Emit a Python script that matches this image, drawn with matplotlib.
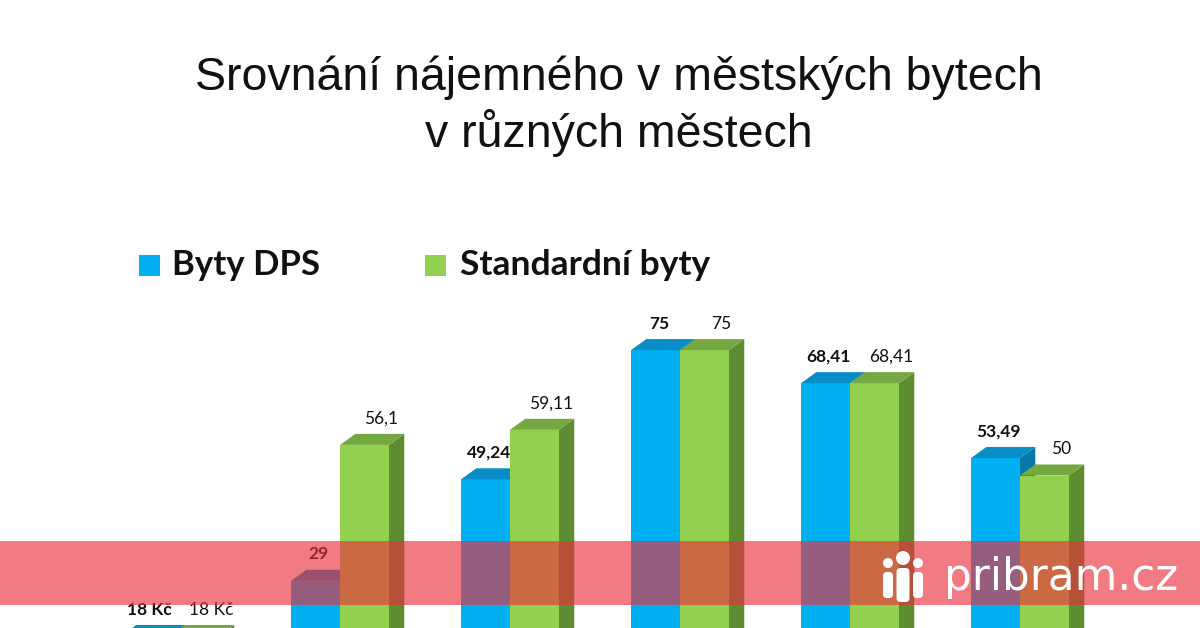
import matplotlib
matplotlib.use("Agg")
import matplotlib.pyplot as plt
from matplotlib.patches import Polygon, Rectangle, FancyBboxPatch, Circle

# data: rent per m2 (Kč) in city flats, six towns (names not shown in the crop)
groups = [0, 1, 2, 3, 4, 5]
dps = [18, 29, 49.24, 75, 68.41, 53.49]
standard = [18, 56.1, 59.11, 75, 68.41, 50]
dps_labels = ["18 Kč", "29", "49,24", "75", "68,41", "53,49"]
standard_labels = ["18 Kč", "56,1", "59,11", "75", "68,41", "50"]

blue = ("#00B0F0", "#0A8DC6", "#0878AA")    # front, top, side
green = ("#92D050", "#76A841", "#5E8C31")
label_font = ["Lato", "DejaVu Sans"]

W, H = 1200, 628
fig = plt.figure(figsize=(W / 100, H / 100), dpi=100)
ax = fig.add_axes([0, 0, 1, 1])
ax.set_xlim(-1.0, 6.0588)
ax.set_ylim(19.6, 144.8)
ax.axis("off")

bw = 0.288      # bar width
dx = 0.09       # fake 3d depth
dy = 2.2


def bar3d(x0, v, cols, label, bold, lx):
    x1 = x0 + bw
    ax.add_patch(Polygon([(x1, 0), (x1, v), (x1 + dx, v + dy), (x1 + dx, dy)],
                         closed=True, color=cols[2], lw=0))
    ax.bar(x0, v, width=bw, align="edge", color=cols[0], lw=0)
    ax.add_patch(Polygon([(x0, v), (x1, v), (x1 + dx, v + dy), (x0 + dx, v + dy)],
                         closed=True, color=cols[1], lw=0))
    ax.annotate(label, (x0 + bw / 2 + lx, v), xytext=(0, 19), textcoords="offset points",
                ha="center", va="center", fontsize=12.5, family=label_font,
                fontweight=700 if bold else 400, fontstyle="normal", color="#111111",
                annotation_clip=False)


for g, a, b, la, lb in zip(groups, dps, standard, dps_labels, standard_labels):
    bar3d(g - bw, a, blue, la, True, 0.02)
    bar3d(g, b, green, lb, False, 0.1)

# title
fig.text(0.516, 1 - 78 / H, "Srovnání nájemného v městských bytech", ha="center", va="center",
         fontsize=33.5, family="Liberation Sans", color="#111111")
fig.text(0.516, 1 - 133 / H, "v různých městech", ha="center", va="center",
         fontsize=33.5, family="Liberation Sans", color="#111111")

# overlay in pixel coordinates for legend, banner and logo
ov = fig.add_axes([0, 0, 1, 1], zorder=5)
ov.set_xlim(0, W)
ov.set_ylim(H, 0)
ov.axis("off")

ov.add_patch(Rectangle((139, 255), 21, 21, color=blue[0], lw=0))
ov.text(172, 265, "Byty DPS", ha="left", va="center", fontsize=25,
        family=label_font, fontweight=700, fontstyle="normal", color="#111111")
ov.add_patch(Rectangle((425, 255), 21, 21, color=green[0], lw=0))
ov.text(460, 265, "Standardní byty", ha="left", va="center", fontsize=25.5,
        family=label_font, fontweight=700, fontstyle="normal", color="#111111")

# red banner with the site logo
ov.add_patch(Rectangle((0, 541), W, 64, color="#EA2F3E", alpha=0.64, lw=0))
ov.text(944, 590, "pribram.cz", ha="left", va="baseline", fontsize=31.5,
        family="DejaVu Sans", color="white")
for cx, cy, r, top, bot, hw in [(888, 563, 5, 572, 598, 5), (903, 558, 7, 568, 602, 6.5),
                                (918, 563, 5, 572, 598, 5)]:
    ov.add_patch(Circle((cx, cy), r, color="white", lw=0))
    ov.add_patch(FancyBboxPatch((cx - hw + 2, top + 2), 2 * hw - 4, bot - top - 4,
                                boxstyle="round,pad=2,rounding_size=4", color="white", lw=0))

fig.savefig("out.png", dpi=100)
